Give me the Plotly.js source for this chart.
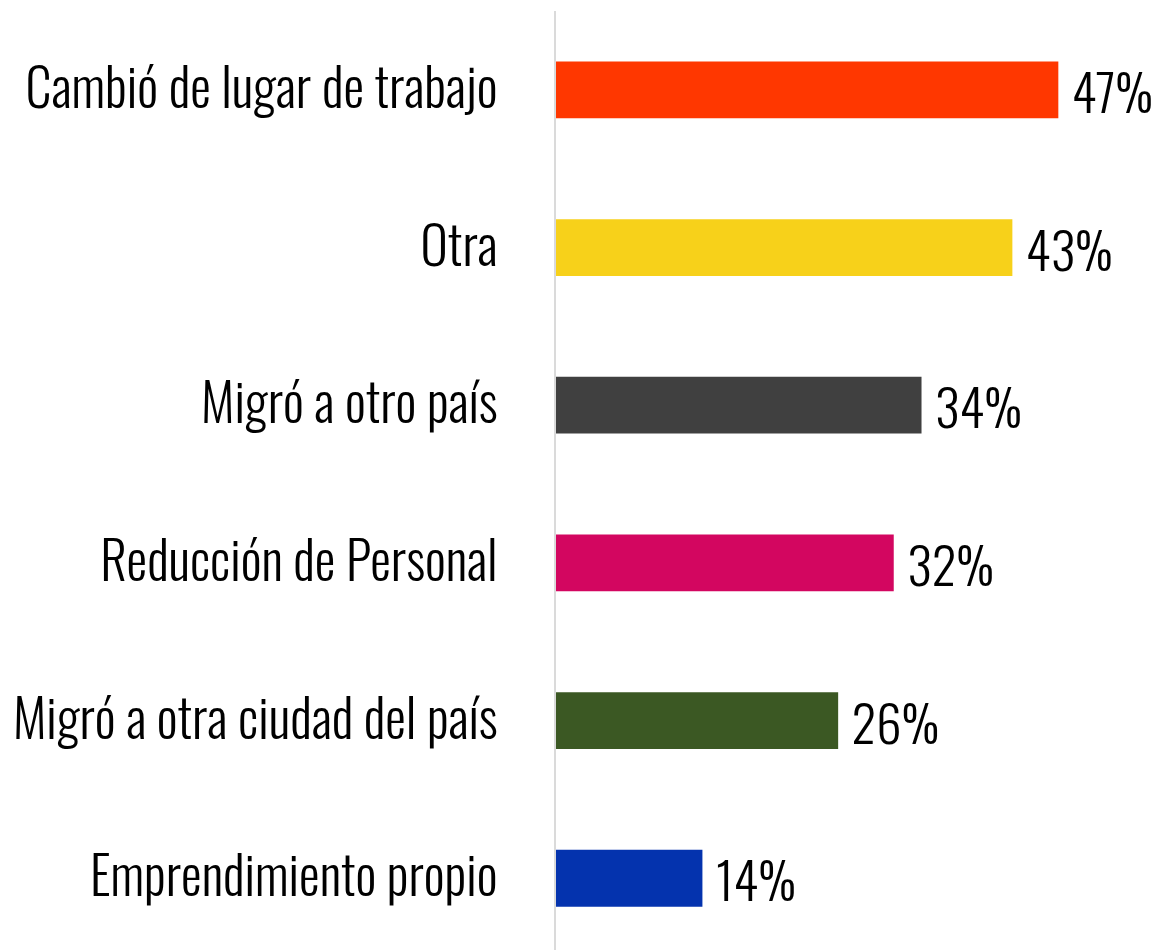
<!DOCTYPE html>
<html>
<head>
<meta charset="utf-8">
<script src="https://cdn.plot.ly/plotly-3.0.1.min.js"></script>
<style>
  html, body { margin: 0; padding: 0; background: #fff; }
  #chart { width: 1162px; height: 950px; }
</style>
</head>
<body>
<div id="chart"></div>
<script>
const categories = [
  "Cambió de lugar de trabajo",
  "Otra",
  "Migró a otro país",
  "Reducción de Personal",
  "Migró a otra ciudad del país",
  "Emprendimiento propio"
];
const values = [47.0, 42.7, 34.2, 31.6, 26.4, 13.7];
const barColors = ["#FF3700", "#F7D11A", "#404040", "#D30660", "#3B5823", "#0433AE"];

const FONT = 'Oswald, "Roboto Condensed", sans-serif';

const trace = {
  type: 'bar',
  orientation: 'h',
  y: categories,
  x: values,
  marker: { color: barColors },
  width: 0.36,
  texttemplate: '\u00a0%{x:.0f}%',
  textposition: 'outside',
  constraintext: 'none',
  cliponaxis: false,
  textfont: { family: FONT, size: 51, color: '#000', weight: 350 },
  hoverinfo: 'none'
};

const layout = {
  width: 1162,
  height: 950,
  margin: { l: 556, r: 0, t: 11, b: 0 },
  paper_bgcolor: '#fff',
  plot_bgcolor: '#fff',
  showlegend: false,
  xaxis: {
    range: [0, 56.7],
    showgrid: false,
    zeroline: false,
    showticklabels: false,
    showline: false,
    fixedrange: true
  },
  yaxis: {
    type: 'category',
    range: [5.455, -0.5],
    showgrid: false,
    zeroline: false,
    showline: true,
    linecolor: '#DADADA',
    linewidth: 2,
    ticks: 'outside',
    ticklen: 46,
    tickcolor: 'rgba(0,0,0,0)',
    tickfont: { family: FONT, size: 52, color: '#000', weight: 300 },
    fixedrange: true
  }
};

Plotly.newPlot('chart', [trace], layout, { displayModeBar: false, staticPlot: true });
</script>
</body>
</html>
